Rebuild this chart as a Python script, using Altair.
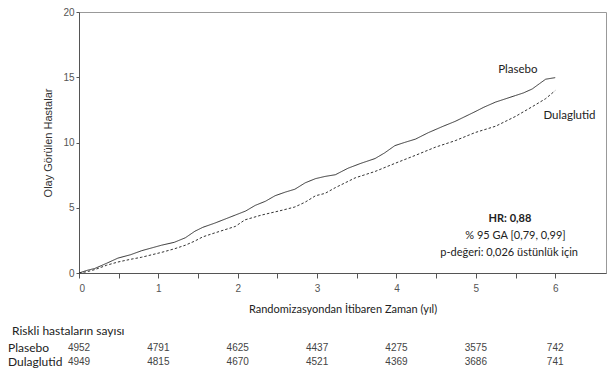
import altair as alt
import pandas as pd

# --- data ---
plasebo_t = [0, 0.1, 0.2, 0.35, 0.49, 0.65, 0.79, 1.04, 1.2, 1.34, 1.46, 1.56, 1.71, 1.97, 2.1,
             2.22, 2.35, 2.47, 2.6, 2.72, 2.85, 2.98, 3.1, 3.23, 3.39, 3.55, 3.73, 3.85, 3.98, 4.1,
             4.24, 4.4, 4.59, 4.74, 4.99, 5.1, 5.25, 5.5, 5.6, 5.71, 5.8, 5.88, 6.0]
plasebo_y = [0, 0.2, 0.35, 0.75, 1.14, 1.4, 1.71, 2.13, 2.35, 2.7, 3.2, 3.5, 3.82, 4.44, 4.75,
             5.18, 5.5, 5.92, 6.2, 6.42, 6.91, 7.23, 7.4, 7.53, 8.03, 8.4, 8.77, 9.2, 9.76, 10.0,
             10.26, 10.75, 11.25, 11.62, 12.36, 12.7, 13.1, 13.6, 13.8, 14.1, 14.5, 14.85, 14.97]
dula_t = [0, 0.1, 0.2, 0.35, 0.49, 0.65, 0.79, 1.04, 1.2, 1.34, 1.46, 1.56, 1.71, 1.97, 2.09,
          2.3, 2.56, 2.72, 2.85, 2.98, 3.1, 3.23, 3.48, 3.73, 3.98, 4.24, 4.49, 4.74, 4.99, 5.25,
          5.5, 5.71, 5.88, 6.0]
dula_y = [0, 0.1, 0.26, 0.6, 0.84, 1.05, 1.21, 1.58, 1.85, 2.13, 2.45, 2.77, 3.07, 3.57, 4.07,
          4.44, 4.81, 5.06, 5.43, 5.92, 6.1, 6.54, 7.29, 7.78, 8.4, 9.02, 9.64, 10.14, 10.76, 11.25,
          12.0, 12.74, 13.36, 13.98]

years = [0, 1, 2, 3, 4, 5, 6]
risk_plasebo = [4952, 4791, 4625, 4437, 4275, 3575, 742]
risk_dula = [4949, 4815, 4670, 4521, 4369, 3686, 741]

groups = ["Plasebo", "Dulaglutid"]
x_ticks = [0, 0.5, 1, 1.5, 2, 2.5, 3, 3.5, 4, 4.5, 5, 5.5, 6]
y_ticks = [0, 5, 10, 15, 20]

curve_labels = ["Plasebo", "Dulaglutid"]
curve_label_t = [5.53, 6.18]
curve_label_y = [15.55, 12.03]

hr_line = ["HR: 0,88"]
hr_t = [5.43]
hr_y = [4.11]
stat_lines = ["% 95 GA [0,79, 0,99]", "p-değeri: 0,026 üstünlük için"]
stat_t = [5.50, 5.42]
stat_y = [2.83, 1.56]

risk_title = ["Riskli hastaların sayısı"]
x_title = "Randomizasyondan İtibaren Zaman (yıl)"
y_title = "Olay Görülen Hastalar"

# --- tables ---
curves = pd.concat([
    pd.DataFrame({"t": plasebo_t, "y": plasebo_y, "group": groups[0]}),
    pd.DataFrame({"t": dula_t, "y": dula_y, "group": groups[1]}),
])
labels_df = pd.DataFrame({"t": curve_label_t, "y": curve_label_y, "label": curve_labels})
hr_df = pd.DataFrame({"t": hr_t, "y": hr_y, "label": hr_line})
stats_df = pd.DataFrame({"t": stat_t, "y": stat_y, "label": stat_lines})
risk_p_df = pd.DataFrame({"t": years, "n": risk_plasebo})
risk_d_df = pd.DataFrame({"t": years, "n": risk_dula})
rowlab_p = pd.DataFrame({"label": [groups[0]]})
rowlab_d = pd.DataFrame({"label": [groups[1]]})
risk_title_df = pd.DataFrame({"label": risk_title})

x_scale = alt.Scale(domain=[0, 6.64], nice=False, zero=False)
y_scale = alt.Scale(domain=[0, 20], nice=False)

x_axis = alt.Axis(values=x_ticks, labelExpr="datum.value % 1 === 0 ? '' + datum.value : ''",
                  title=x_title, grid=False, tickSize=5, labelPadding=5,
                  labelFont="Liberation Sans", labelFontSize=10, labelColor="#555",
                  titleFont="Lato", titleFontSize=11, titleFontWeight="normal",
                  titleColor="#222", titlePadding=10, domainColor="#555", tickColor="#555")
y_axis = alt.Axis(values=y_ticks, title=y_title, grid=False, tickSize=3, labelPadding=2,
                  labelFont="Liberation Sans", labelFontSize=10, labelColor="#555",
                  titleFont="Liberation Sans", titleFontSize=11, titleFontWeight="normal",
                  titleColor="#333", titlePadding=9, domainColor="#555", tickColor="#555")

X = alt.X("t:Q", scale=x_scale, axis=x_axis)
Y = alt.Y("y:Q", scale=y_scale, axis=y_axis)

lines = alt.Chart(curves).mark_line(color="#333", strokeWidth=1).encode(
    x=X, y=Y,
    strokeDash=alt.StrokeDash("group:N", scale=alt.Scale(domain=groups, range=[[1, 0], [2.5, 2]]),
                              legend=None),
    detail="group:N",
)

curve_text = alt.Chart(labels_df).mark_text(font="Lato", fontSize=11.5, color="#222").encode(
    x=X, y=Y, text="label:N")

hr_text = alt.Chart(hr_df).mark_text(font="Lato", fontSize=11, fontWeight="bold", color="#222").encode(
    x=X, y=Y, text="label:N")
stats_text = alt.Chart(stats_df).mark_text(font="Lato", fontSize=11, color="#222").encode(
    x=X, y=Y, text="label:N")

risk_p = alt.Chart(risk_p_df).mark_text(font="Liberation Sans", fontSize=10, color="#444").encode(
    x=X, y=alt.value(336), text="n:Q")
risk_d = alt.Chart(risk_d_df).mark_text(font="Liberation Sans", fontSize=10, color="#444").encode(
    x=X, y=alt.value(350), text="n:Q")

row_p = alt.Chart(rowlab_p).mark_text(font="Lato", fontSize=12, color="#222", align="left").encode(
    x=alt.value(-71), y=alt.value(336), text="label:N")
row_d = alt.Chart(rowlab_d).mark_text(font="Lato", fontSize=12, color="#222", align="left").encode(
    x=alt.value(-71), y=alt.value(350), text="label:N")
row_title = alt.Chart(risk_title_df).mark_text(font="Lato", fontSize=12, color="#222", align="left").encode(
    x=alt.value(-67), y=alt.value(319), text="label:N")

chart = alt.layer(lines, curve_text, hr_text, stats_text, risk_p, risk_d, row_p, row_d, row_title).properties(
    width=527, height=261,
    padding={"left": 71, "top": 4, "right": 1, "bottom": 98},
    autosize=alt.AutoSizeParams(type="none"),
    background="white",
).configure_view(stroke="#999", strokeWidth=1)

chart.save("out.html", embed_options={"renderer": "svg", "actions": False})
